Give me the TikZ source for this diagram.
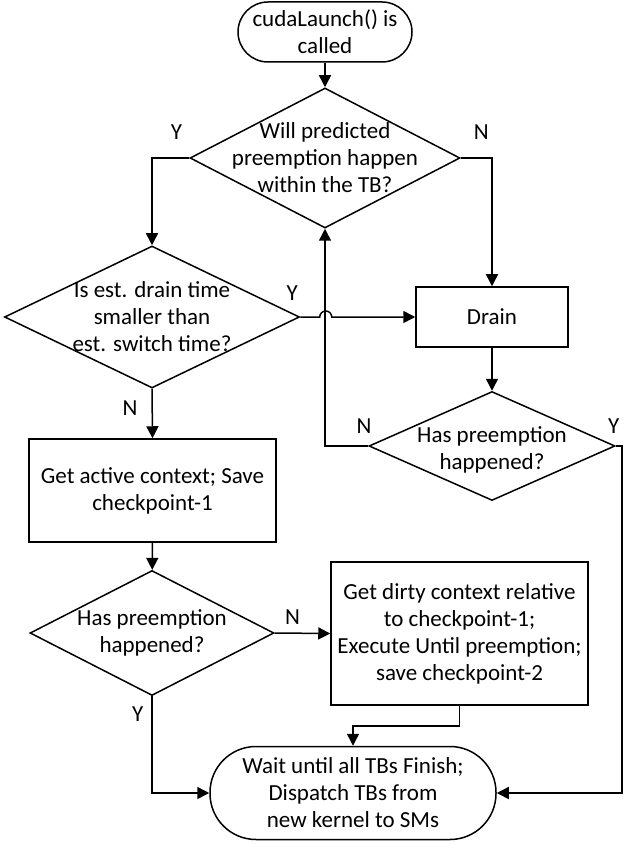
\documentclass[tikz,border=0pt]{standalone}
\usepackage{fontspec}
\setmainfont{Carlito}
\usepackage{tikz}
\usetikzlibrary{arrows.meta,shapes.geometric}

\begin{document}
\begin{tikzpicture}[
  x=0.5pt, y=-0.5pt,
  every node/.style={font=\fontsize{11.5}{13.5}\selectfont},
  term/.style={rectangle,draw,line width=0.75pt,inner sep=0pt,align=center},
  process/.style={rectangle,draw,line width=0.75pt,inner sep=0pt,align=center},
  decision/.style={diamond,draw,line width=0.75pt,inner sep=0pt},
  qtext/.style={align=center,inner sep=0pt},
  yn/.style={inner sep=0pt},
  arrow/.style={-{Triangle[length=6pt,width=6pt]},line width=0.75pt}
]
\useasboundingbox (0,0) rectangle (623,844);
\node[term,rounded corners=15pt,minimum width=87pt,minimum height=30pt] (start) at (325,32) {cudaLaunch() is\\called};
\node[decision,minimum width=135pt,minimum height=70pt,
  label={[qtext]center:Will predicted\\preemption happen\\within the TB?}] (pred) at (325,158) {};
\node[decision,minimum width=147.5pt,minimum height=71pt,
  label={[qtext]center:Is est. drain time\\smaller than\\est. switch time?}] (cmp) at (152,317) {};
\node[process,minimum width=76pt,minimum height=30pt] (drain) at (492,317) {Drain};
\node[decision,minimum width=123pt,minimum height=54.5pt,
  label={[qtext,yshift=-2pt]center:Has preemption\\happened?}] (hapd) at (492,446) {};
\node[process,minimum width=123.5pt,minimum height=51.5pt] (save) at (152.5,490.5) {Get active context; Save\\checkpoint-1};
\node[decision,minimum width=122pt,minimum height=62.5pt,
  label={[qtext]center:Has preemption\\happened?}] (hap) at (152,633) {};
\node[process,minimum width=128.5pt,minimum height=71.5pt] (exec) at (459.5,633.5) {Get dirty context relative\\to checkpoint-1;\\Execute Until preemption;\\save checkpoint-2};
\node[term,rounded corners=23pt,minimum width=143pt,minimum height=46.5pt] (fin) at (353,793) {Wait until all TBs Finish;\\Dispatch TBs from\\new kernel to SMs};

\draw[arrow] (start) -- (pred);
\draw[arrow] (pred.west) -| node[yn,above=9pt,pos=0.17]{Y} (cmp.north);
\draw[arrow] (pred.east) -| node[yn,above=9pt,pos=0.33]{N} (drain.north);
% Y of the comparison hops over the loop-back line
\draw[arrow] (cmp.east) -- node[yn,pos=0,above=8pt,xshift=-4pt]{Y} ++(19.5,0)
  arc[start angle=180,end angle=0,radius=3pt] -- (drain.west);
\draw[arrow] (cmp.south) -- node[yn,left=7pt,pos=0.4]{N} (save.north);
\draw[arrow] (drain) -- (hapd);
\draw[arrow] (hapd.west) -| node[yn,above=6pt,pos=0.05]{N} (pred.south);
\draw[arrow] (hapd.east) -- node[yn,pos=0,above=6pt,xshift=-1pt]{Y} ++(6,0) |- (fin.east);
\draw[arrow] (save) -- (hap);
\draw[arrow] (hap.east) -- node[yn,above=4pt,pos=0.32]{N} (exec.west);
\draw[arrow] (hap.south) |- node[yn,left=4pt,pos=0.09]{Y} (fin.west);
\draw[arrow] (exec.south) -- ++(0,20) -| (fin.north);
\end{tikzpicture}
\end{document}
